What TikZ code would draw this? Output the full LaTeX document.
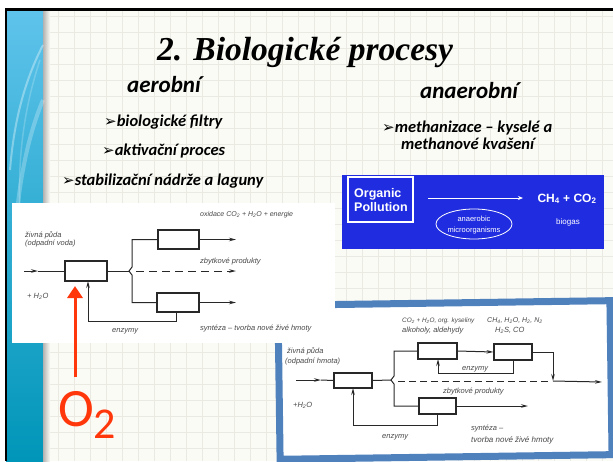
\documentclass[tikz,border=0pt]{standalone}
\usepackage{fontspec}
\setmainfont{Liberation Serif}
\newfontfamily\timesfont{Liberation Serif}
\newfontfamily\calfont{Carlito}
\newfontfamily\dvfont{DejaVu Sans}
\newfontfamily\arialfont{Liberation Sans}
\usetikzlibrary{arrows.meta,shapes.geometric,calc}
\definecolor{slidebg}{RGB}{251,251,245}
\definecolor{gridc}{RGB}{234,234,226}
\definecolor{bandtop}{RGB}{95,195,235}
\definecolor{bandbot}{RGB}{0,150,185}
\definecolor{anblue}{RGB}{32,44,224}
\definecolor{frameblue}{RGB}{79,129,189}
\definecolor{redc}{RGB}{255,55,10}
\definecolor{inkc}{RGB}{40,40,40}
\tikzset{
  hand/.style={font=\arialfont\itshape\fontsize{7.5}{8}\selectfont, text=inkc!85, inner sep=0, anchor=base west},
  pbox/.style={draw=inkc, line width=1.1pt, inner sep=0},
  ln/.style={draw=inkc, line width=1pt},
  ar/.style={ln, -{Stealth[length=7pt,width=3.5pt]}},
  head/.style={inner sep=0, anchor=base west, font=\calfont\bfseries\itshape\fontsize{23}{26}\selectfont},
  bul/.style={inner sep=0, anchor=base west, font=\calfont\bfseries\itshape\fontsize{16.5}{17}\selectfont},
  wtxt/.style={text=white, inner sep=0, align=center}
}
\newcommand{\bulletmark}{{\dvfont\fontsize{15}{15}\selectfont ➢}}
\begin{document}
\begin{tikzpicture}[x=1pt,y=-1pt]
\useasboundingbox (0,0) rectangle (613,461);
\fill[white] (0,0) rectangle (613,461);
\fill[slidebg] (6,9) rectangle (613,461);
% grid
\foreach \x in {58,74,...,612} \draw[gridc, line width=0.6pt] (\x,10) -- (\x,461);
\foreach \y in {16,32,...,460} \draw[gridc, line width=0.6pt] (43,\y) -- (613,\y);
% left band
\shade[top color=bandtop, bottom color=bandbot] (6,9) rectangle (43,461);
\shade[left color=black!30, right color=slidebg] (43,10) rectangle (50,461);
\draw[white, opacity=0.35, line width=2pt] (43,45) .. controls (25,80) and (14,120) .. (10,170);
\draw[white, opacity=0.25, line width=4pt] (43,100) .. controls (22,150) and (12,220) .. (14,300);
\draw[white, opacity=0.2, line width=1.5pt] (40,60) .. controls (20,120) and (16,180) .. (22,240);
% border
\draw[black, line width=2.5pt] (6,461) -- (6,9.5) -- (613,9.5);
% titles
\node[inner sep=0, anchor=base west, font=\timesfont\bfseries\itshape\fontsize{33.5}{36}\selectfont] (title) at (157,60) {2. Biologické procesy};
\node[head] (aer) at (127,92) {aerobní};
\node[head] (anaer) at (420,98) {anaerobní};
\node[bul] (b1t) at (104,126) {\bulletmark biologické filtry};
\node[bul] (b2t) at (102,155) {\bulletmark aktivační proces};
\node[bul] (b3t) at (62,185) {\bulletmark stabilizační nádrže a laguny};
\node[bul] (b4t) at (382,132) {\bulletmark methanizace – kyselé a};
\node[bul] (b5t) at (401,149) {methanové kvašení};
% anaerobic blue box
\fill[anblue] (342,175) rectangle (604,249);
\node[draw=white, line width=1.2pt, minimum width=65pt, minimum height=45pt, inner sep=0] (org) at (380.5,199.5) {};
\node[wtxt, font=\arialfont\bfseries\fontsize{12.5}{14}\selectfont, align=left, anchor=west] (orgt) at (354,200) {Organic\\Pollution};
\coordinate (awa) at (428,198);
\coordinate (awb) at (523,198);
\draw[white, line width=1pt, -{Stealth[length=5pt,width=4pt]}] (awa) -- (awb);
\node[wtxt, font=\arialfont\bfseries\fontsize{12}{14}\selectfont, anchor=base] (ch4) at (567,202) {CH\textsubscript{4} + CO\textsubscript{2}};
\node[wtxt, font=\arialfont\fontsize{8}{9}\selectfont, anchor=base] (bio) at (568,224) {biogas};
\node[draw=white, line width=0.8pt, ellipse, minimum width=76pt, minimum height=30pt, inner sep=0] (ell) at (474,224) {};
\node[wtxt, font=\arialfont\fontsize{7.5}{11}\selectfont] (ellt) at (474,225) {anaerobic\\microorganisms};
% right image (anaerobic scheme)
\begin{scope}[rotate around={0.8:(444,380)}]
\draw[frameblue, line width=7pt, fill=white] (279,303) rectangle (611,457);
\end{scope}
\node[pbox, minimum width=38pt, minimum height=15pt] (r1) at (353,380.5) {};
\node[pbox, minimum width=39pt, minimum height=16pt] (rA) at (437.5,351) {};
\node[pbox, minimum width=38pt, minimum height=16pt] (rB) at (513,352) {};
\node[pbox, minimum width=37pt, minimum height=16pt] (rC) at (437.5,406) {};
\coordinate (rin) at (296,380);
\coordinate (rinm) at (321,380);
\draw[ar] (rin) -- (rinm);
\draw[ln] (rinm) -- (r1.west);
\draw[ln] (r1.east) -- (391,380);
\draw[ln] (rA.west) -- (394,351) -- (394,376) -- (391,380) -- (394,384) -- (394,406) -- (rC.west);
\draw[ar] (rA.east) -- (rB.west);
\draw[ar] (513,360) -- (513,373) -| (438,359);
\draw[ln] (rB.east) -- (553,352);
\draw[ar] (553,352) -- (553,381);
\draw[ln, dashed, dash pattern=on 7pt off 4pt] (398,381) -- (549,381);
\draw[ar] (553,381) -- (602,382);
\draw[ar] (rC.east) -- (528,406);
\draw[ar] (437,414) -- (437,425) -| (353,388);
\node[hand] (rl1) at (287,353) {živná půda};
\node[hand] (rl2) at (285,363) {(odpadní hmota)};
\node[hand] (rl3) at (293,407) {+H\textsubscript{2}O};
\node[hand, font=\arialfont\itshape\fontsize{6.4}{7}\selectfont] (rl4) at (402,322) {CO\textsubscript{2} + H\textsubscript{2}O, org. kyseliny};
\node[hand] (rl5) at (402,332) {alkoholy, aldehydy};
\node[hand, font=\arialfont\itshape\fontsize{7}{8}\selectfont] (rl6) at (487,322) {CH\textsubscript{4}, H\textsubscript{2}O, H\textsubscript{2}, N\textsubscript{2}};
\node[hand] (rl7) at (495,332) {H\textsubscript{2}S, CO};
\node[hand] (rl8) at (462,370) {enzymy};
\node[hand] (rl9) at (443,393) {zbytkové produkty};
\node[hand] (rl10) at (382,438) {enzymy};
\node[hand] (rl11) at (471,430) {syntéza –};
\node[hand, font=\arialfont\itshape\fontsize{8}{9}\selectfont] (rl12) at (471,442) {tvorba nové živé hmoty};
% left image (aerobic scheme)
\fill[white] (12,203) rectangle (335,343);
\node[pbox, minimum width=42pt, minimum height=20pt] (b1) at (86,271) {};
\node[pbox, minimum width=41pt, minimum height=19pt] (bU) at (178.5,239.5) {};
\node[pbox, minimum width=42pt, minimum height=19pt] (bL) at (178,302.5) {};
\coordinate (lin) at (24,271);
\coordinate (linm) at (38,271);
\draw[ar] (lin) -- (linm);
\draw[ln] (linm) -- (b1.west);
\draw[ln] (b1.east) -- (129,271);
\draw[ln] (bU.west) -- (132,239.5) -- (132,267) -- (129,271) -- (132,275) -- (132,302.5) -- (bL.west);
\coordinate (oU) at (236,239.5);
\coordinate (oM) at (236,271);
\coordinate (oL) at (236,302.5);
\draw[ar] (bU.east) -- (oU);
\draw[ln, dashed, dash pattern=on 8pt off 5pt, -{Stealth[length=7pt,width=3.5pt]}] (136,271) -- (oM);
\draw[ar] (bL.east) -- (oL);
\draw[ar] (176,312) -- (176,321) -| (88,281);
\node[hand] (ll1) at (25,237) {živná půda};
\node[hand] (ll2) at (25,245) {(odpadní voda)};
\node[hand] (ll3) at (27,298) {+ H\textsubscript{2}O};
\node[hand] (ll4) at (112,332) {enzymy};
\node[hand, font=\arialfont\itshape\fontsize{7}{8}\selectfont] (ll5) at (200,216) {oxidace CO\textsubscript{2} + H\textsubscript{2}O + energie};
\node[hand] (ll6) at (200,263) {zbytkové produkty};
\node[hand] (ll7) at (200,330) {syntéza – tvorba nové živé hmoty};
% O2 arrow
\node[inner sep=0, anchor=base west, text=redc, font=\calfont\fontsize{54}{56}\selectfont] (o2) at (58,426) {O\raisebox{-12pt}{\fontsize{44}{46}\selectfont 2}};
\coordinate (o2top) at (75,377);
\draw[redc, line width=3pt, -{Triangle[length=12pt,width=15pt]}] (o2top) -- (75,286);
\end{tikzpicture}
\end{document}
